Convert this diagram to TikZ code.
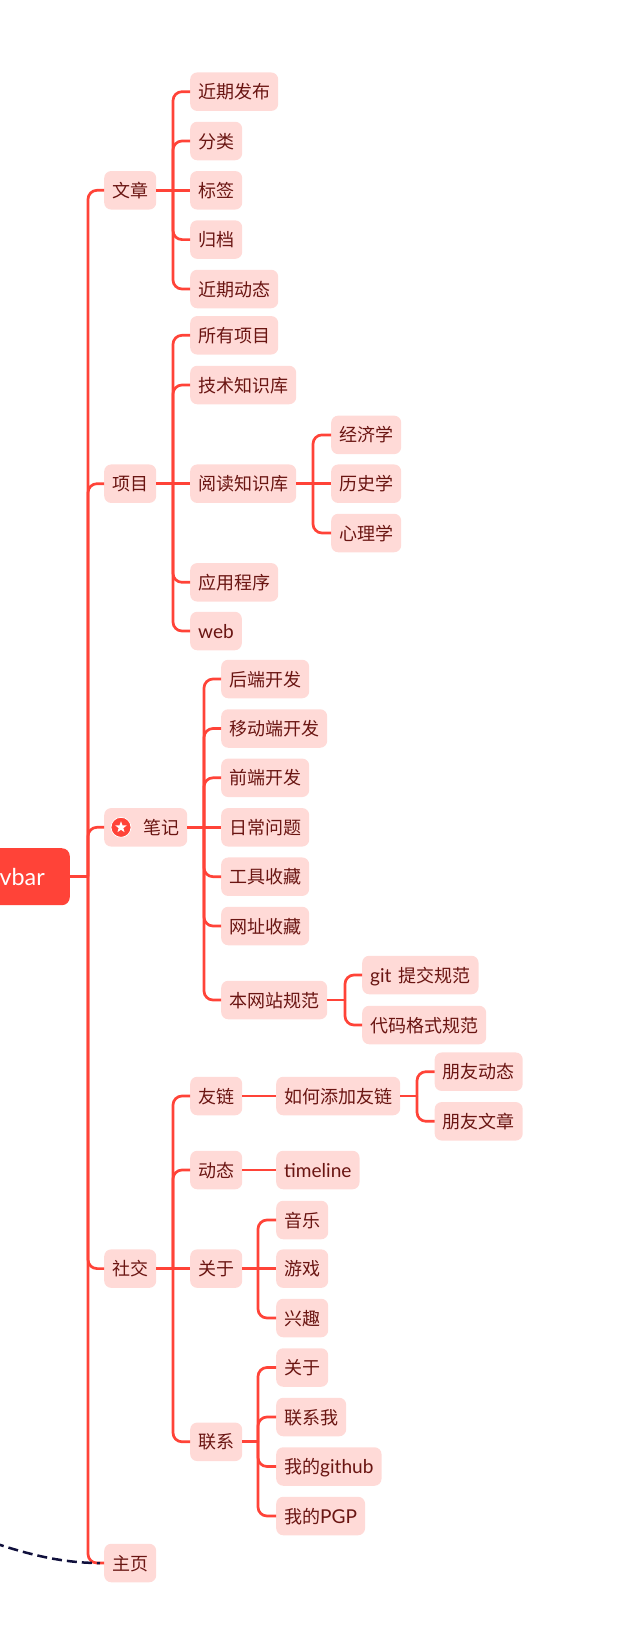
\documentclass[tikz,border=0pt]{standalone}
\usepackage{fontspec}
\setmainfont{Lato}
\newfontfamily\cjk{Noto Sans CJK SC}
\newfontfamily\latn[Scale=1.06]{Lato}
\usepackage{tikz}
\usetikzlibrary{positioning, shapes.geometric}
\usepackage{xcolor}
\definecolor{mapred}{HTML}{FF4338}
\definecolor{chipfill}{HTML}{FFDAD7}
\definecolor{chiptext}{HTML}{6A1512}
\definecolor{mapnavy}{HTML}{10103C}
\newcommand{\lat}[1]{{\latn #1}}

\begin{document}
\begin{tikzpicture}[
  x=1pt, y=-1pt,
  every node/.style={font=\fontsize{18pt}{20pt}\selectfont\cjk},
  chip/.style={fill=chipfill, text=chiptext, rounded corners=7pt, anchor=west,
    inner xsep=8pt, inner ysep=0pt, minimum height=38.5pt, text height=16pt, text depth=2pt},
  link/.style={draw=mapred, line width=2.7pt, rounded corners=9pt}
]
\useasboundingbox (0,0) rectangle (630,1628);

% root
\node[fill=mapred, text=white, rounded corners=8pt, anchor=east, inner xsep=25pt,
      minimum height=57pt, font=\fontsize{22pt}{26pt}\selectfont\latn] (navroot) at (70,876.7) {vbar};

% first level
\foreach \n/\y/\t in {wenzhang/190.3/文章, xiangmu/483.7/项目, shejiao/1268.6/社交, zhuye/1563/主页}
  \node[chip] (\n) at (104,\y) {\t};
\node[chip] (biji) at (104,827.3) {\hspace*{31pt}笔记};
\node[circle, fill=mapred, draw=white, line width=0.8pt, inner sep=0pt, minimum size=20pt] (bijiicon) at (121,827.3) {};
\node[star, star points=5, star point ratio=2.4, fill=white, inner sep=0pt, minimum size=12pt] (bijistar) at (bijiicon) {};

% wenzhang
\foreach \n/\y/\t in {jinqi/91.7/近期发布, fenlei/141/分类, biaoqian/190.3/标签, guidang/239.6/归档, dongtai/289/近期动态}
  \node[chip] (\n) at (190,\y) {\t};

% xiangmu
\foreach \n/\y/\t in {suoyou/335.3/所有项目, jishu/385/技术知识库, yuedu/483.7/阅读知识库, yingyong/582.3/应用程序, webapp/631/\lat{web}}
  \node[chip] (\n) at (190,\y) {\t};
\foreach \n/\y/\t in {jingji/434.9/经济学, lishi/483.7/历史学, xinli/533/心理学}
  \node[chip] (\n) at (331,\y) {\t};

% biji
\foreach \n/\y/\t in {houduan/679/后端开发, yidong/728.5/移动端开发, qianduan/777.8/前端开发, richang/827.3/日常问题, gongju/876.7/工具收藏, wangzhi/926/网址收藏, guifan/1000/本网站规范}
  \node[chip] (\n) at (221,\y) {\t};
\node[chip] (gitguifan) at (362,975) {\lat{git}\hspace{7pt}提交规范};
\node[chip] (daima) at (362,1025) {代码格式规范};

% shejiao
\foreach \n/\y/\t in {youlian/1096/友链, dongt/1170/动态, guanyu/1268.6/关于, lianxi/1441.8/联系}
  \node[chip] (\n) at (190,\y) {\t};
\node[chip] (tianjia) at (276,1096) {如何添加友链};
\node[chip] (timeline) at (276,1170) {\lat{timeline}};
\node[chip] (pengyoua) at (434.5,1071.7) {朋友动态};
\node[chip] (pengyoub) at (434.5,1121.3) {朋友文章};
\foreach \n/\y/\t in {yinyue/1220/音乐, youxi/1268.6/游戏, xingqu/1318/兴趣, guanyub/1367.5/关于, lianxiwo/1417/联系我, github/1466.5/我的\lat{github}, pgp/1516/我的\lat{PGP}}
  \node[chip] (\n) at (276,\y) {\t};

% buses
\coordinate (rootbus) at (88,876.7);
\coordinate (wenzhangbus) at (173,190.3);
\coordinate (xiangmubus) at (173,483.7);
\coordinate (yuedubus) at (313,483.7);
\coordinate (bijibus) at (204,827.3);
\coordinate (guifanbus) at (345,1000);
\coordinate (shejiaobus) at (173,1268.6);
\coordinate (tianjiabus) at (417,1096);
\coordinate (guanyubus) at (258,1268.6);
\coordinate (lianxibus) at (258,1441.8);

% connectors
\draw[link] (navroot.east) -- (rootbus);
\foreach \c in {wenzhang, xiangmu, biji, shejiao, zhuye}
  \draw[link] (rootbus) |- (\c.west);
\draw[link] (wenzhang.east) -- (biaoqian.west);
\foreach \c in {jinqi, fenlei, guidang, dongtai}
  \draw[link] (wenzhangbus) |- (\c.west);
\draw[link] (xiangmu.east) -- (yuedu.west);
\foreach \c in {suoyou, jishu, yingyong, webapp}
  \draw[link] (xiangmubus) |- (\c.west);
\draw[link] (yuedu.east) -- (lishi.west);
\foreach \c in {jingji, xinli}
  \draw[link] (yuedubus) |- (\c.west);
\draw[link] (biji.east) -- (richang.west);
\foreach \c in {houduan, yidong, qianduan, gongju, wangzhi, guifan}
  \draw[link] (bijibus) |- (\c.west);
\draw[link] (guifan.east) -- (guifanbus);
\foreach \c in {gitguifan, daima}
  \draw[link] (guifanbus) |- (\c.west);
\draw[link] (shejiao.east) -- (guanyu.west);
\foreach \c in {youlian, dongt, lianxi}
  \draw[link] (shejiaobus) |- (\c.west);
\draw[link] (youlian.east) -- (tianjia.west);
\draw[link] (dongt.east) -- (timeline.west);
\draw[link] (tianjia.east) -- (tianjiabus);
\foreach \c in {pengyoua, pengyoub}
  \draw[link] (tianjiabus) |- (\c.west);
\draw[link] (guanyu.east) -- (youxi.west);
\foreach \c in {yinyue, xingqu}
  \draw[link] (guanyubus) |- (\c.west);
\draw[link] (lianxi.east) -- (lianxibus);
\foreach \c in {guanyub, lianxiwo, github, pgp}
  \draw[link] (lianxibus) |- (\c.west);

% dashed curve
\coordinate (offpage) at (-20,1538);
\draw[mapnavy, line width=2.5pt, dash pattern=on 10pt off 5pt, shorten >=4pt]
  (offpage) .. controls (30,1556) and (65,1563) .. (zhuye.west);
\end{tikzpicture}
\end{document}
